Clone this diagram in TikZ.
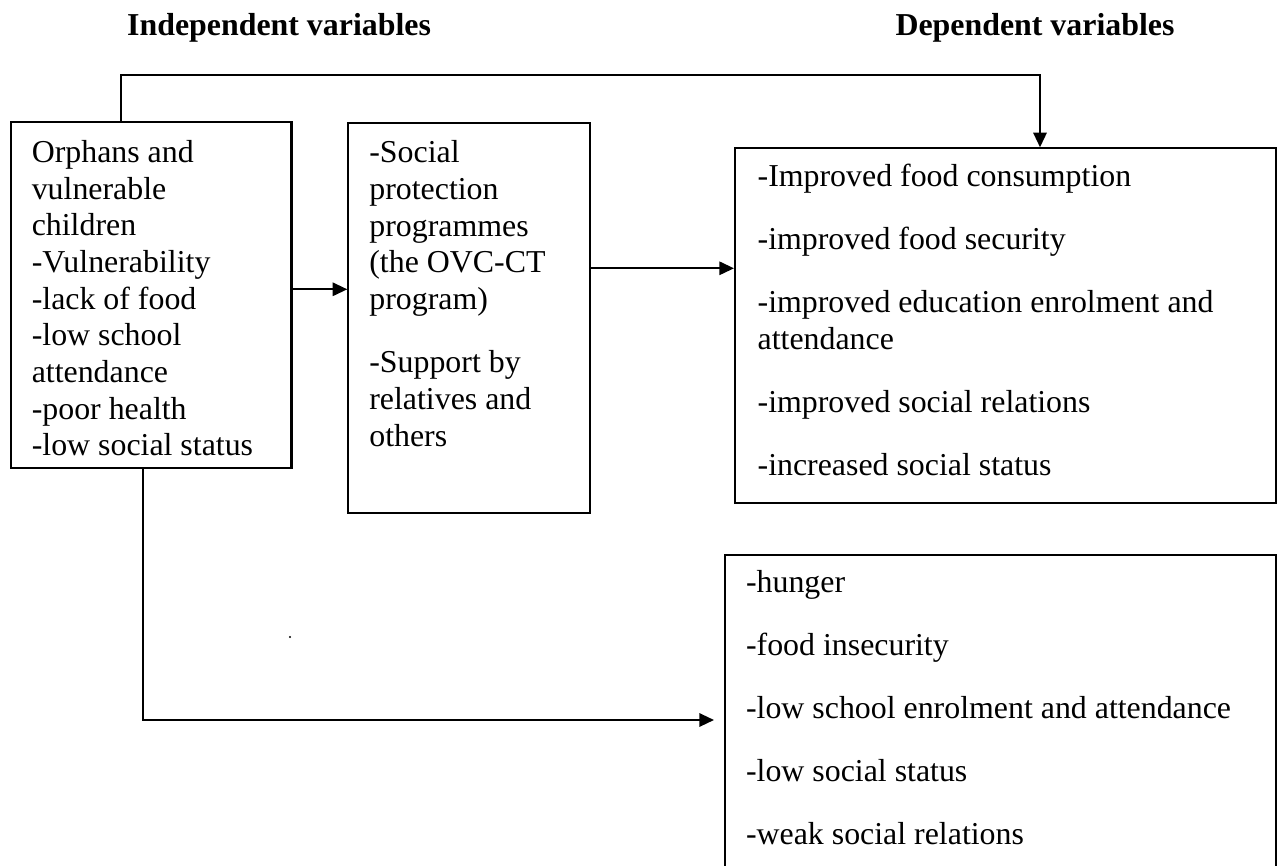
\documentclass[tikz,border=0pt]{standalone}
\usepackage{fontspec}
\setmainfont{Liberation Serif}
\usetikzlibrary{arrows.meta}

% text of a box: height, width, top gap, lines
\newcommand{\boxtext}[4]{\parbox[t][#1][t]{#2}{\raggedright\rule{0pt}{#3}#4}}

\begin{document}
\begin{tikzpicture}[x=0.3765pt, y=-0.3765pt, font=\fontsize{12}{13.8}\selectfont,
  varbox/.style={draw, line width=0.8pt, anchor=north west, inner ysep=0pt},
  heading/.style={anchor=base west, inner sep=0pt, font=\fontsize{12}{13.8}\selectfont\bfseries},
  link/.style={line width=0.8pt, -{Triangle[length=5.5pt,width=5pt]}}]
  \useasboundingbox (0,0) rectangle (1278,865);

  \node[heading] (indep) at (126.7,36) {Independent variables};
  \node[heading] (dep) at (895,36) {Dependent variables};

  \node[varbox, inner xsep=7.8pt] (ovc) at (10,120.7)
    {\boxtext{130.3pt}{90pt}{15.4pt}{Orphans and\\ vulnerable\\ children\\ -Vulnerability\\ -lack of food\\ -low school\\ attendance\\ -poor health\\ -low social status}};
  \node[varbox, inner xsep=7.9pt] (prog) at (347.3,121.7)
    {\boxtext{146.8pt}{75.3pt}{15.1pt}{-Social\\ protection\\ programmes\\ (the OVC-CT\\ program)\\[10pt] -Support by\\ relatives and\\ others}};
  \node[varbox, inner xsep=8.5pt] (better) at (734,147.3)
    {\boxtext{133.4pt}{186.7pt}{14.2pt}{-Improved food consumption\\[10pt] -improved food security\\[10pt] -improved education enrolment and\\ attendance\\[10pt] -improved social relations\\[10pt] -increased social status}};
  \node[varbox, inner xsep=7.9pt] (worse) at (724,554.3)
    {\boxtext{118.9pt}{191.7pt}{13.8pt}{-hunger\\[10pt] -food insecurity\\[10pt] -low school enrolment and attendance\\[10pt] -low social status\\[10pt] -weak social relations}};

  %\node (stray) at (290,637) {.};
  \fill (290,637) circle (0.45pt);

  \coordinate (up) at (120.7,75);
  \coordinate (over) at (1040,75);
  \coordinate (down) at (143,720);
  \coordinate (tip) at (714,720);

  \draw[link] (ovc.east |- 0,289.3) -- (prog.west |- 0,289.3);
  \draw[link] (prog.east |- 0,268.3) -- (better.west |- 0,268.3);
  \draw[link] (ovc.north -| up) -- (up) -- (over) -- (better.north -| over);
  \draw[link] (ovc.south -| down) -- (down) -- (tip);
\end{tikzpicture}
\end{document}
